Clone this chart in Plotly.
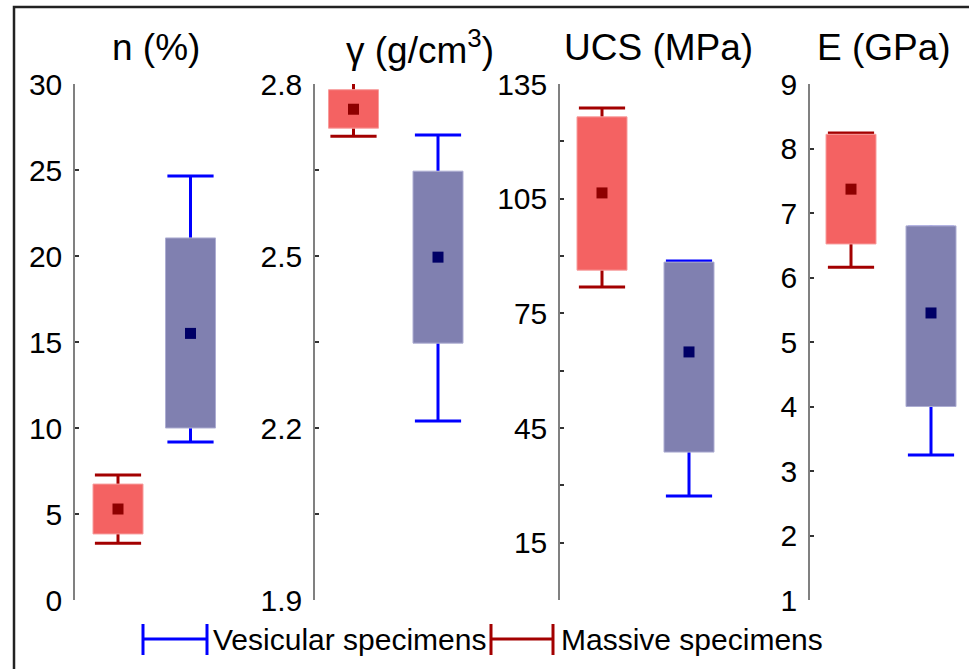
import plotly.graph_objects as go

# ---------------- data ----------------
titles = ["n (%)", "γ (g/cm<sup>3</sup>)", "UCS (MPa)", "E (GPa)"]
groups = ["Massive specimens", "Vesicular specimens"]
legend_labels = ["Vesicular specimens", "Massive specimens"]

massive_whisker_low = [3.3, 2.709, 81.9, 6.16]
massive_q1 = [3.84, 2.723, 86.3, 6.52]
massive_mean = [5.29, 2.756, 106.5, 7.37]
massive_q3 = [6.74, 2.790, 126.4, 8.22]
massive_whisker_high = [7.27, 2.802, 128.7, 8.24]

vesicular_whisker_low = [9.19, 2.212, 27.2, 3.25]
vesicular_q1 = [10.0, 2.348, 38.7, 4.0]
vesicular_mean = [15.5, 2.498, 64.9, 5.45]
vesicular_q3 = [21.05, 2.648, 88.4, 6.80]
vesicular_whisker_high = [24.65, 2.711, 88.7, 6.78]

y_ranges = [[0, 30], [1.9, 2.8], [0, 135], [1, 9]]
labeled_ticks = [
    [0, 5, 10, 15, 20, 25, 30],
    [1.9, 2.2, 2.5, 2.8],
    [15, 45, 75, 105, 135],
    [1, 2, 3, 4, 5, 6, 7, 8, 9],
]
tick_labels = [
    ["0", "5", "10", "15", "20", "25", "30"],
    ["1.9", "2.2", "2.5", "2.8"],
    ["15", "45", "75", "105", "135"],
    ["1", "2", "3", "4", "5", "6", "7", "8", "9"],
]
unlabeled_ticks = [
    [],
    [2.05, 2.35, 2.65],
    [0, 30, 60, 90, 120],
    [],
]

# ---------------- style / layout ----------------
W, H = 969, 669
FONT = "Arial, Liberation Sans, sans-serif"
panel_px = [
    dict(A=75, R=118, B=190.5, D=240, T=156),
    dict(A=315, R=353.5, B=438, D=480, T=420),
    dict(A=560, R=602, B=689, D=735, T=658),
    dict(A=810, R=851, B=931, D=965, T=884),
]
Y_TOP, Y_BOT = 84, 600
BOX_W = 50
CAP = 33

styles = {
    "Massive specimens": dict(fill="#F46262", edge="#F79C9C", whisk="#A30000", mean="#8E0000"),
    "Vesicular specimens": dict(fill="#8080B0", edge="#ADADD2", whisk="#0000FF", mean="#000066"),
}

def px_x(p):
    return p / W

def px_y(p):
    return 1 - p / H

fig = go.Figure()
layout = dict()

for i in range(4):
    p = panel_px[i]
    unit = p["B"] - p["R"]
    h = BOX_W / 2 / unit
    xa = "x" if i == 0 else f"x{i+1}"
    ya = "y" if i == 0 else f"y{i+1}"
    data = {
        "Massive specimens": (1, massive_whisker_low[i], massive_q1[i], massive_mean[i], massive_q3[i], massive_whisker_high[i]),
        "Vesicular specimens": (2, vesicular_whisker_low[i], vesicular_q1[i], vesicular_mean[i], vesicular_q3[i], vesicular_whisker_high[i]),
    }
    for g in groups:
        pos, wl, q1, mn, q3, wh = data[g]
        st = styles[g]
        common = dict(xaxis=xa, yaxis=ya, showlegend=False, hoverinfo="skip", cliponaxis=False)
        fig.add_trace(go.Scatter(x=[pos, pos, None, pos, pos], y=[q3, wh, None, q1, wl], mode="lines",
                                 line=dict(color=st["whisk"], width=3), **common))
        fig.add_trace(go.Scatter(x=[pos, pos], y=[wh, wl], mode="markers",
                                 marker=dict(symbol="line-ew", size=CAP, line=dict(color=st["whisk"], width=3)),
                                 **common))
        fig.add_trace(go.Scatter(x=[pos - h, pos + h, pos + h, pos - h, pos - h], y=[q1, q1, q3, q3, q1],
                                 mode="lines", fill="toself", fillcolor=st["fill"],
                                 line=dict(color=st["edge"], width=1), **common))
        fig.add_trace(go.Scatter(x=[pos], y=[mn], mode="markers",
                                 marker=dict(symbol="square", size=11, color=st["mean"], line=dict(width=0)),
                                 **common))

    xkey = "xaxis" if i == 0 else f"xaxis{i+1}"
    ykey = "yaxis" if i == 0 else f"yaxis{i+1}"
    layout[xkey] = dict(domain=[px_x(p["A"]), px_x(p["D"])],
                        range=[1 - (p["R"] - p["A"]) / unit, 2 + (p["D"] - p["B"]) / unit],
                        visible=False, anchor=ya, fixedrange=True, automargin=False)
    ycfg = dict(domain=[px_y(Y_BOT), px_y(Y_TOP)], range=y_ranges[i], anchor=xa,
                tickmode="array", tickvals=labeled_ticks[i], ticktext=tick_labels[i],
                ticks="inside", ticklen=4, tickwidth=2, tickcolor="#333333",
                showline=True, linecolor="#808080", linewidth=1.5,
                showgrid=False, zeroline=False, ticklabelstandoff=5, automargin=False,
                tickfont=dict(family=FONT, size=30, color="black"), fixedrange=True)
    if unlabeled_ticks[i]:
        ycfg["minor"] = dict(tickmode="array", tickvals=unlabeled_ticks[i], ticks="inside",
                             ticklen=4, tickwidth=2, tickcolor="#333333", showgrid=False)
    layout[ykey] = ycfg

annotations = []
for i in range(4):
    annotations.append(dict(text=titles[i], x=px_x(panel_px[i]["T"]), y=px_y(48), xref="paper", yref="paper",
                            showarrow=False, xanchor="center", yanchor="middle",
                            font=dict(family=FONT, size=37, color="black")))

shapes = []
leg_colors = [styles["Vesicular specimens"]["whisk"], styles["Massive specimens"]["whisk"]]
leg_glyph_x = [(143, 207), (491, 553)]
leg_text_x = [211, 559]
LY, LY0, LY1 = 639, 624, 655
for k in range(2):
    x0, x1 = leg_glyph_x[k]
    c = leg_colors[k]
    shapes.append(dict(type="line", xref="paper", yref="paper", x0=px_x(x0), x1=px_x(x1), y0=px_y(LY), y1=px_y(LY),
                       line=dict(color=c, width=3)))
    for xx in (x0, x1):
        shapes.append(dict(type="line", xref="paper", yref="paper", x0=px_x(xx), x1=px_x(xx),
                           y0=px_y(LY0), y1=px_y(LY1), line=dict(color=c, width=3)))
    annotations.append(dict(text=legend_labels[k], x=px_x(leg_text_x[k]), y=px_y(LY), xref="paper", yref="paper",
                            showarrow=False, xanchor="left", yanchor="middle",
                            font=dict(family=FONT, size=30, color="black")))

shapes.append(dict(type="rect", xref="paper", yref="paper", x0=px_x(14), x1=px_x(985), y0=px_y(690), y1=px_y(7),
                   line=dict(color="#222222", width=2.5), fillcolor="rgba(0,0,0,0)"))

fig.update_layout(width=W, height=H, autosize=False, margin=dict(l=0, r=0, t=0, b=0, pad=0, autoexpand=False),
                  paper_bgcolor="white", plot_bgcolor="rgba(0,0,0,0)",
                  showlegend=False, annotations=annotations, shapes=shapes, **layout)

fig.write_html("out.html", include_plotlyjs=True, config={"displayModeBar": False})
